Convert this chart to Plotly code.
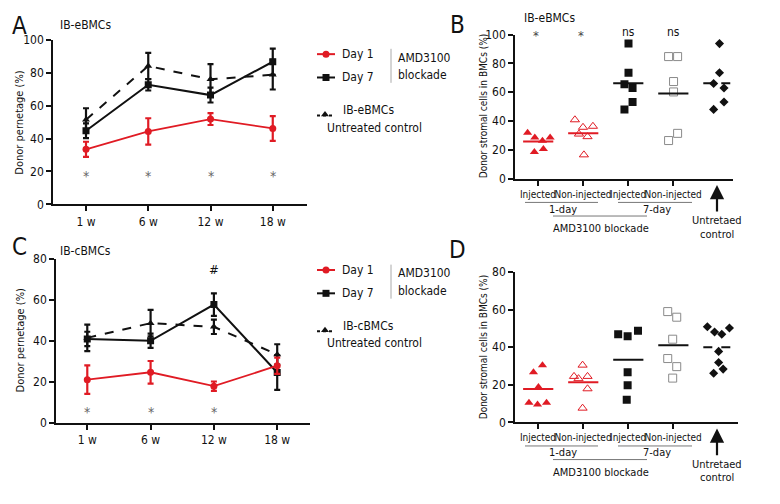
import numpy as np
import plotly.graph_objects as go

W, H = 780, 504
FONT = "Liberation Sans Narrow, Arial Narrow, DejaVu Sans Condensed, sans-serif"
RED = "#e01b24"
BLK = "#111111"
GRY = "#8a8a8a"
STAR = "#666666"

weeks = ["1 w", "6 w", "12 w", "18 w"]

# Panel A (IB-eBMCs)
a_day1 = [33.5, 44.4, 51.9, 46.2]
a_day1_err = [4.6, 8.0, 3.6, 7.5]
a_day7 = [44.8, 72.8, 66.5, 86.8]
a_day7_err = [4.5, 3.5, 4.5, 8.0]
a_ctrl = [51.5, 84.2, 76.1, 78.9]
a_ctrl_err = [7.0, 8.0, 9.3, 9.0]
a_star_y = 17.0

# Panel C (IB-cBMCs)
c_day1 = [21.1, 24.7, 17.9, 27.9]
c_day1_err = [7.0, 5.5, 2.3, 4.0]
c_day7 = [41.0, 40.1, 57.8, 24.6]
c_day7_err = [3.5, 3.5, 5.5, 8.5]
c_ctrl = [41.5, 48.7, 46.9, 33.4]
c_ctrl_err = [6.5, 6.5, 3.5, 5.0]
c_star_y = 5.5
c_hash_y = 75.0

groups = ["Injected", "Non-injected", "Injected", "Non-injected"]

# Panel B (IB-eBMCs) donor stromal cells
b_inj1 = [31.9, 28.6, 26.3, 28.6, 18.5, 20.7]
b_non1 = [40.9, 35.7, 36.4, 31.0, 29.2, 16.6]
b_inj7 = [93.7, 73.5, 65.6, 62.9, 53.2, 48.1]
b_non7 = [84.7, 84.7, 67.4, 60.2, 31.5, 26.5]
b_ctrl = [93.7, 73.5, 66.0, 62.9, 53.2, 48.1]
b_sig = ["*", "*", "ns", "ns"]
b_sig_y = 100.0

# Panel D (IB-cBMCs) donor stromal cells
d_inj1 = [30.5, 26.7, 18.8, 10.5, 9.5, 10.5]
d_non1 = [30.5, 24.5, 23.3, 24.5, 17.9, 7.6]
d_inj7 = [46.9, 45.9, 48.8, 26.7, 19.8, 12.1]
d_non7 = [59.0, 56.0, 44.3, 34.0, 29.7, 23.6]
d_ctrl = [50.9, 48.1, 46.9, 50.3, 37.8, 31.9, 26.2, 28.4]

# horizontal jitter (layout only) for the scatter columns
jit_b = [
    [-0.23, -0.07, 0.10, 0.27, -0.08, 0.12],
    [-0.18, 0.00, 0.22, -0.09, 0.10, 0.02],
    [0.01, 0.01, -0.08, 0.10, 0.10, -0.08],
    [-0.10, 0.10, 0.01, 0.01, 0.10, -0.10],
    [0.03, 0.03, -0.10, 0.13, 0.13, -0.10],
]
jit_d = [
    [0.10, -0.10, 0.01, -0.20, -0.01, 0.19],
    [-0.01, -0.20, -0.10, 0.10, 0.10, -0.01],
    [-0.22, -0.01, 0.22, -0.01, -0.01, -0.03],
    [-0.12, 0.08, -0.01, -0.12, 0.08, -0.01],
    [-0.24, -0.08, 0.08, 0.25, 0.01, 0.01, -0.10, 0.11],
]

fig = go.Figure()


def dom_x(a, b):
    return [a / W, b / W]


def dom_y(top, bottom):
    return [1 - bottom / H, 1 - top / H]


# ---------- line panels ----------
def line_panel(xa, ya, d1, e1, d7, e7, ct, ec):
    xi = list(range(len(weeks)))
    fig.add_trace(go.Scatter(
        x=xi, y=ct, xaxis=xa, yaxis=ya, mode="lines+markers",
        line=dict(color=BLK, width=2, dash="dash"),
        marker=dict(symbol="triangle-up", size=7, color=BLK),
        error_y=dict(type="data", array=ec, color=BLK, thickness=2.2, width=3),
        showlegend=False))
    fig.add_trace(go.Scatter(
        x=xi, y=d7, xaxis=xa, yaxis=ya, mode="lines+markers",
        line=dict(color=BLK, width=2),
        marker=dict(symbol="square", size=7, color=BLK),
        error_y=dict(type="data", array=e7, color=BLK, thickness=2.2, width=3),
        showlegend=False))
    fig.add_trace(go.Scatter(
        x=xi, y=d1, xaxis=xa, yaxis=ya, mode="lines+markers",
        line=dict(color=RED, width=1.8),
        marker=dict(symbol="circle", size=7, color=RED),
        error_y=dict(type="data", array=e1, color=RED, thickness=2.2, width=3),
        showlegend=False))


line_panel("x", "y", a_day1, a_day1_err, a_day7, a_day7_err, a_ctrl, a_ctrl_err)
line_panel("x3", "y3", c_day1, c_day1_err, c_day7, c_day7_err, c_ctrl, c_ctrl_err)


# ---------- scatter panels ----------
def scatter_panel(xa, ya, cols, jits):
    styles = [
        dict(symbol="triangle-up", size=8, color=RED),
        dict(symbol="triangle-up-open", size=8, color=RED, line=dict(width=1)),
        dict(symbol="square", size=8, color=BLK),
        dict(symbol="square-open", size=8, color=GRY, line=dict(width=1)),
        dict(symbol="diamond", size=7, color=BLK),
    ]
    mean_cols = [RED, RED, BLK, BLK, BLK]
    for i, (vals, jit) in enumerate(zip(cols, jits)):
        fig.add_trace(go.Scatter(
            x=[i + j for j in jit], y=vals, xaxis=xa, yaxis=ya, mode="markers",
            marker=styles[i], showlegend=False))
        m = float(np.mean(vals))
        fig.add_trace(go.Scatter(
            x=[i - 0.33, i + 0.34], y=[m, m], xaxis=xa, yaxis=ya, mode="lines",
            line=dict(color=mean_cols[i], width=2,
                      dash="dash" if i == 4 else "solid"),
            showlegend=False))


scatter_panel("x2", "y2", [b_inj1, b_non1, b_inj7, b_non7, b_ctrl], jit_b)
scatter_panel("x4", "y4", [d_inj1, d_non1, d_inj7, d_non7, d_ctrl], jit_d)

# ---------- overlay (pixel space) for legend keys ----------
for ybase in (0, 222):
    fig.add_trace(go.Scatter(x=[317, 335], y=[48.5 + ybase, 48.5 + ybase], xaxis="x5", yaxis="y5",
                             mode="lines", line=dict(color=RED, width=2), showlegend=False, hoverinfo="skip"))
    fig.add_trace(go.Scatter(x=[326], y=[48.5 + ybase], xaxis="x5", yaxis="y5", mode="markers",
                             marker=dict(symbol="circle", size=7, color=RED), showlegend=False, hoverinfo="skip"))
    fig.add_trace(go.Scatter(x=[317, 335], y=[72.5 + ybase, 72.5 + ybase], xaxis="x5", yaxis="y5",
                             mode="lines", line=dict(color=BLK, width=2), showlegend=False, hoverinfo="skip"))
    fig.add_trace(go.Scatter(x=[326], y=[72.5 + ybase], xaxis="x5", yaxis="y5", mode="markers",
                             marker=dict(symbol="square", size=7, color=BLK), showlegend=False, hoverinfo="skip"))
    fig.add_trace(go.Scatter(x=[317, 334], y=[111.5 + ybase, 111.5 + ybase], xaxis="x5", yaxis="y5",
                             mode="lines", line=dict(color=BLK, width=2, dash="3px,3px"), showlegend=False, hoverinfo="skip"))
    fig.add_trace(go.Scatter(x=[325], y=[110.5 + ybase], xaxis="x5", yaxis="y5", mode="markers",
                             marker=dict(symbol="triangle-up", size=7, color=BLK), showlegend=False, hoverinfo="skip"))

ann = []
shapes = []


def txt(x, y, s, size=11, xanchor="center", color=BLK, xref="x5", yref="y5", yanchor="middle", angle=0,
        yshift=0):
    ann.append(dict(x=x, y=y, xref=xref, yref=yref, text=s, showarrow=False,
                    xanchor=xanchor, yanchor=yanchor, textangle=angle, yshift=yshift,
                    font=dict(family=FONT, size=size, color=color)))


# panel letters & titles
txt(19, 20, "A", 24)
txt(457, 19, "B", 24)
txt(19, 247, "C", 24)
txt(457, 250, "D", 24)
txt(85, 19, "IB-eBMCs", 12)
txt(549, 11, "IB-eBMCs", 12)
txt(85, 251, "IB-cBMCs", 12)

# y-axis titles
txt(20, 119, "Donor pernetage (%)", 11, angle=-90)
txt(20, 343, "Donor pernetage (%)", 11, angle=-90)
txt(483, 102, "Donor stromal cells in BMCs (%)", 10, angle=-90)
txt(483, 350, "Donor stromal cells in BMCs (%)", 10, angle=-90)

# legends text
for ybase, lab in ((0, "IB-eBMCs"), (222, "IB-cBMCs")):
    txt(340, 48.5 + ybase, "Day 1", 12, "left")
    txt(340, 72.5 + ybase, "Day 7", 12, "left")
    txt(341, 106 + ybase, lab, 12, "left")
    txt(325, 124 + ybase, "Untreated control", 12, "left")
    txt(396, 52 + ybase, "AMD3100", 12, "left")
    txt(396, 70 + ybase, "blockade", 12, "left")
    shapes.append(dict(type="line", xref="x5", yref="y5", x0=391, x1=391,
                       y0=43 + ybase, y1=78 + ybase, line=dict(color="#aaaaaa", width=1)))

# significance marks on line panels
for i in range(4):
    txt(i, a_star_y, "*", 14, color=STAR, xref="x", yref="y")
for i in range(3):
    txt(i, c_star_y, "*", 14, color=STAR, xref="x3", yref="y3")
txt(2, c_hash_y, "#", 13, xref="x3", yref="y3")

# significance on panel B (anchored at top of range, nudged)
for i, s in enumerate(b_sig):
    if s == "*":
        txt(i - 0.05, b_sig_y, s, 13, color="#444444", xref="x2", yref="y2", yshift=-1)
    else:
        txt(i, b_sig_y, s, 12, xref="x2", yref="y2", yshift=3)

# group labels under B and D
for yo in (0, 250.5):
    shapes.append(dict(type="line", xref="x5", yref="y5", x0=525, x1=598, y0=201 + yo, y1=201 + yo,
                       line=dict(color="#777777", width=1)))
    shapes.append(dict(type="line", xref="x5", yref="y5", x0=618, x1=692, y0=201 + yo, y1=201 + yo,
                       line=dict(color="#777777", width=1)))
    shapes.append(dict(type="line", xref="x5", yref="y5", x0=553, x1=647, y0=215 + yo, y1=215 + yo,
                       line=dict(color="#777777", width=1)))
    txt(563, 208 + yo, "1-day", 11)
    txt(657, 208 + yo, "7-day", 11)
    txt(601, 228 + yo, "AMD3100 blockade", 11)
    txt(717, 220 + yo, "Untretaed", 11)
    txt(717, 233.5 + yo, "control", 11)
    ann.append(dict(x=717, y=183 + yo, xref="x5", yref="y5", ax=717, ay=212 + yo,
                    axref="x5", ayref="y5", text="", showarrow=True, arrowhead=2,
                    arrowsize=1.3, arrowwidth=2.2, arrowcolor=BLK))

axis_common = dict(showline=True, linecolor=BLK, linewidth=1.5, ticks="outside",
                   ticklen=5, tickwidth=1.5, tickcolor=BLK, showgrid=False, zeroline=False,
                   tickangle=0, tickfont=dict(family=FONT, size=12, color=BLK))
grp_axis = dict(axis_common)
grp_axis["tickfont"] = dict(family=FONT, size=10, color=BLK)

layout = dict(
    width=W, height=H, margin=dict(l=0, r=0, t=0, b=0),
    paper_bgcolor="white", plot_bgcolor="rgba(0,0,0,0)",
    showlegend=False,
    xaxis=dict(domain=dom_x(53, 307), anchor="y", range=[-0.53, 3.55],
               tickvals=[0, 1, 2, 3], ticktext=weeks, **axis_common),
    yaxis=dict(domain=dom_y(34, 203), anchor="x", range=[0, 100], tickvals=[0, 20, 40, 60, 80, 100],
               **axis_common),
    xaxis2=dict(domain=dom_x(515, 733), anchor="y2", range=[-0.51, 4.33],
                tickvals=[0, 1, 2, 3], ticktext=groups, **grp_axis),
    yaxis2=dict(domain=dom_y(28.3, 176.7), anchor="x2", range=[0, 100], tickvals=[0, 20, 40, 60, 80, 100],
                **axis_common),
    xaxis3=dict(domain=dom_x(56, 310), anchor="y3", range=[-0.494, 3.518],
                tickvals=[0, 1, 2, 3], ticktext=weeks, **axis_common),
    yaxis3=dict(domain=dom_y(259.3, 427.7), anchor="x3", range=[0, 80], tickvals=[0, 20, 40, 60, 80],
                **axis_common),
    xaxis4=dict(domain=dom_x(515, 738), anchor="y4", range=[-0.51, 4.44],
                tickvals=[0, 1, 2, 3], ticktext=groups, **grp_axis),
    yaxis4=dict(domain=dom_y(272.7, 427.3), anchor="x4", range=[0, 80], tickvals=[0, 20, 40, 60, 80],
                **axis_common),
    xaxis5=dict(domain=[0, 1], anchor="y5", range=[0, W], visible=False, fixedrange=True),
    yaxis5=dict(domain=[0, 1], anchor="x5", range=[H, 0], visible=False, fixedrange=True),
    annotations=ann, shapes=shapes,
)
fig.update_layout(**layout)
fig.write_html("out.html", config={"displayModeBar": False},
               post_script="document.body.style.margin='0';document.body.style.padding='0';"
                           "document.body.style.overflow='hidden';")
